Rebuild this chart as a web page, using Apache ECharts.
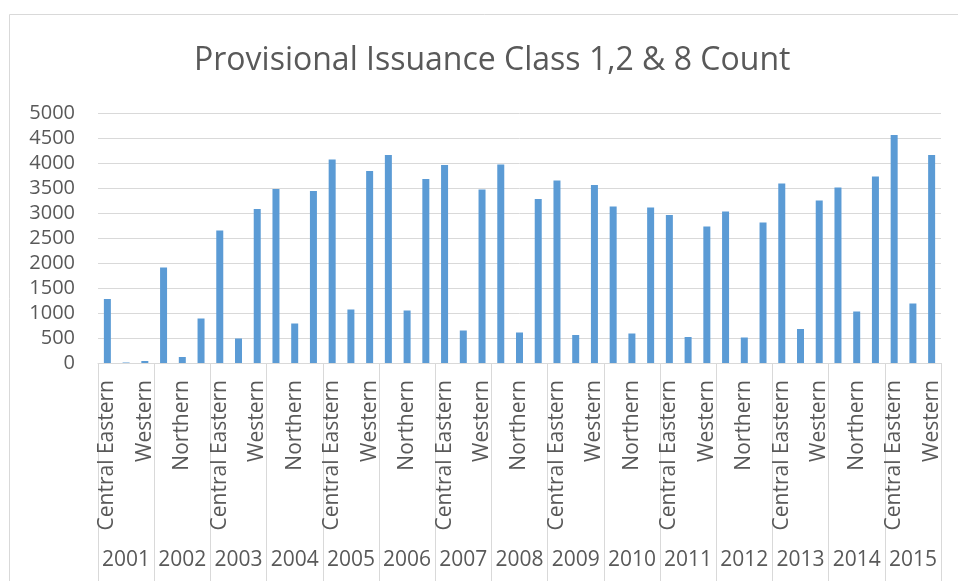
<!DOCTYPE html>
<html>
<head>
<meta charset="utf-8">
<title>Provisional Issuance Class 1,2 & 8 Count</title>
<script src="https://cdn.jsdelivr.net/npm/echarts@6/dist/echarts.min.js"></script>
<style>
  html, body { margin: 0; padding: 0; background: #fff; }
  #chart { width: 958px; height: 581px; }
</style>
</head>
<body>
<div id="chart"></div>
<script>
  const years = ['2001', '2002', '2003', '2004', '2005', '2006', '2007', '2008',
    '2009', '2010', '2011', '2012', '2013', '2014', '2015']
  const regions = ['Central Eastern', 'Northern', 'Western']

  // counts per year, one array per region
  const centralEastern = [1280, 1910, 2650, 3480, 4070, 4160, 3960, 3970, 3650, 3130, 2960, 3030, 3590, 3510, 4560]
  const northern = [10, 120, 490, 790, 1070, 1050, 650, 610, 560, 590, 520, 510, 680, 1030, 1190]
  const western = [40, 890, 3080, 3440, 3840, 3680, 3470, 3280, 3560, 3110, 2730, 2810, 3250, 3730, 4160]

  const yTicks = [0, 500, 1000, 1500, 2000, 2500, 3000, 3500, 4000, 4500, 5000]

  const byRegion = [centralEastern, northern, western]
  const categories = []
  const values = []
  years.forEach((y, i) => {
    regions.forEach((r, j) => {
      categories.push(y + '|' + r)
      values.push(byRegion[j][i])
    })
  })

  const font = "'Open Sans', 'Noto Sans', sans-serif"
  const textColor = '#595959'
  const lineColor = '#d9d9d9'

  const chart = echarts.init(document.getElementById('chart'), null, { renderer: 'canvas' })
  const option = {
    animation: false,
    title: {
      text: 'Provisional Issuance Class 1,2 & 8 Count',
      left: 189,
      top: 40,
      textStyle: {
        fontFamily: font,
        fontSize: 32,
        fontWeight: 'normal',
        color: textColor
      }
    },
    graphic: [
      {
        type: 'rect',
        shape: { x: 9.5, y: 14.5, width: 1000, height: 700 },
        style: { fill: 'none', stroke: lineColor, lineWidth: 1 },
        silent: true
      }
    ],
    grid: {
      left: 98,
      right: 17,
      top: 113,
      bottom: 218
    },
    xAxis: [
      {
        type: 'category',
        data: categories,
        axisLine: { show: true, lineStyle: { color: lineColor, width: 1 } },
        axisTick: { show: false },
        axisLabel: {
          interval: 1,
          rotate: 90,
          margin: 17,
          fontFamily: font,
          fontSize: 21,
          color: textColor,
          formatter: (v) => v.split('|')[1]
        }
      },
      {
        type: 'category',
        data: years,
        position: 'bottom',
        offset: 0,
        axisLine: { show: false },
        axisTick: { show: true, length: 230, lineStyle: { color: lineColor, width: 1 } },
        axisLabel: {
          interval: 0,
          margin: 187,
          fontFamily: font,
          fontSize: 21,
          color: textColor
        }
      }
    ],
    yAxis: {
      type: 'value',
      min: yTicks[0],
      max: yTicks[yTicks.length - 1],
      interval: 500,
      axisLine: { show: false },
      axisTick: { show: false },
      splitLine: { lineStyle: { color: lineColor, width: 1 } },
      axisLabel: {
        margin: 23,
        fontFamily: font,
        fontSize: 20,
        color: textColor,
        formatter: (v) => String(v)
      }
    },
    series: [
      {
        type: 'bar',
        xAxisIndex: 0,
        data: values,
        barWidth: 7,
        itemStyle: { color: '#5b9bd5' }
      }
    ]
  }
  option && chart.setOption(option)
</script>
</body>
</html>
